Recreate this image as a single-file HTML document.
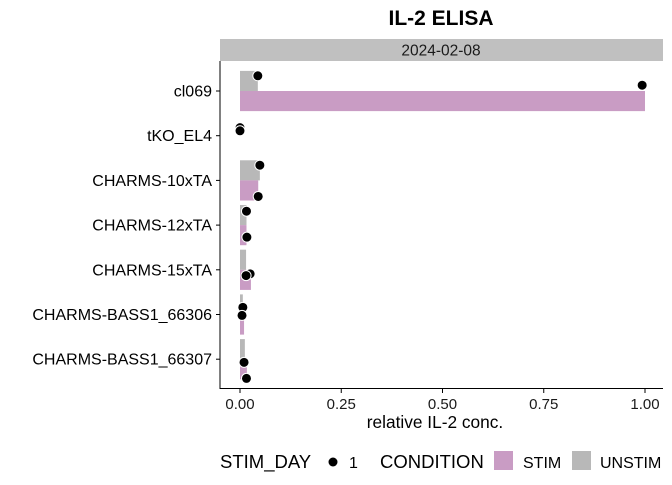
<!DOCTYPE html>
<html><head><meta charset="utf-8"><style>
body{margin:0;background:#fff}
svg{font-family:"Liberation Sans",Arial,sans-serif}
</style></head><body>
<svg id="c" width="672" height="480" viewBox="0 0 672 480">
<text x="441" y="25" text-anchor="middle" font-size="21" font-weight="bold">IL-2 ELISA</text>
<rect x="220" y="39" width="443" height="22" fill="#c0c0c0"/>
<text x="441" y="55.5" text-anchor="middle" font-size="15.5" fill="#1a1a1a">2024-02-08</text>
<g id="bars"></g><g id="pts"></g>
<line x1="220" y1="61" x2="220" y2="389" stroke="#000" stroke-width="1"/>
<line x1="220" y1="388.5" x2="663" y2="388.5" stroke="#000" stroke-width="1"/>
<g id="axes"></g>
<text x="435" y="428" text-anchor="middle" font-size="17.3">relative IL-2 conc.</text>
<g>
<text x="220" y="468" font-size="18.5">STIM_DAY</text>
<circle cx="333" cy="462" r="4.5" fill="#000"/>
<text x="349" y="468" font-size="16">1</text>
<text x="380" y="468" font-size="18.5">CONDITION</text>
<rect x="494" y="451" width="19" height="19" fill="#c99cc4"/>
<text x="523" y="468" font-size="16">STIM</text>
<rect x="572" y="451" width="19" height="19" fill="#b8b8b8"/>
<text x="600" y="468" font-size="16">UNSTIM</text>
</g>
</svg>
<script>
const categories=["cl069","tKO_EL4","CHARMS-10xTA","CHARMS-12xTA","CHARMS-15xTA","CHARMS-BASS1_66306","CHARMS-BASS1_66307"];
const unstimValues=[0.044,0.0,0.049,0.016,0.015,0.007,0.012];
const stimValues=[1.0,0.0,0.045,0.016,0.027,0.01,0.017];
const pointValues=[[0.044,0.993],[0.0,0.0],[0.049,0.045],[0.016,0.017],[0.025,0.015],[0.007,0.005],[0.01,0.016]];
const pointJitter=[[-0.34,-0.13],[-0.18,-0.11],[-0.34,0.36],[-0.31,0.27],[0.09,0.13],[-0.16,0.02],[0.07,0.43]];
const xTicks=[0,0.25,0.5,0.75,1.0];
const xTickLabels=["0.00","0.25","0.50","0.75","1.00"];
const NS="http://www.w3.org/2000/svg";
const xs=v=>240+v*405;
const ys=i=>91+i*44.7;
const bw=44.7*0.45;
function mk(t,a,p){const e=document.createElementNS(NS,t);for(const k in a)e.setAttribute(k,a[k]);p.appendChild(e);return e;}
const bars=document.getElementById('bars'),pts=document.getElementById('pts'),axes=document.getElementById('axes');
categories.forEach((c,i)=>{
 const y=ys(i);
 let r=mk('rect',{x:xs(0),y:y-bw,width:Math.max(0,xs(unstimValues[i])-xs(0)),height:bw,fill:'#b8b8b8'},bars);
 
 
 r=mk('rect',{x:xs(0),y:y,width:Math.max(0,xs(stimValues[i])-xs(0)),height:bw,fill:'#c99cc4'},bars);
 
 
 pointValues[i].forEach((v,j)=>{
  const p=mk('circle',{cx:xs(v),cy:y+pointJitter[i][j]*44.7,r:5,fill:'#000',stroke:'#fff','stroke-width':1},pts);
  
  
 });
 const tk=mk('line',{x1:216,x2:220,y1:y,y2:y,stroke:'#000'},axes);
 
 
 const t=mk('text',{x:212,y:y+5.5,'text-anchor':'end','font-size':'16'},axes);
 t.textContent=c;
 
 
});
xTicks.forEach((v,i)=>{
 const tk=mk('line',{x1:xs(v),x2:xs(v),y1:388,y2:393,stroke:'#000'},axes);
 
 
 const t=mk('text',{x:xs(v),y:409,'text-anchor':'middle','font-size':'15',fill:'#1a1a1a'},axes);
 t.textContent=xTickLabels[i];
 
 
});
</script>
</body></html>
